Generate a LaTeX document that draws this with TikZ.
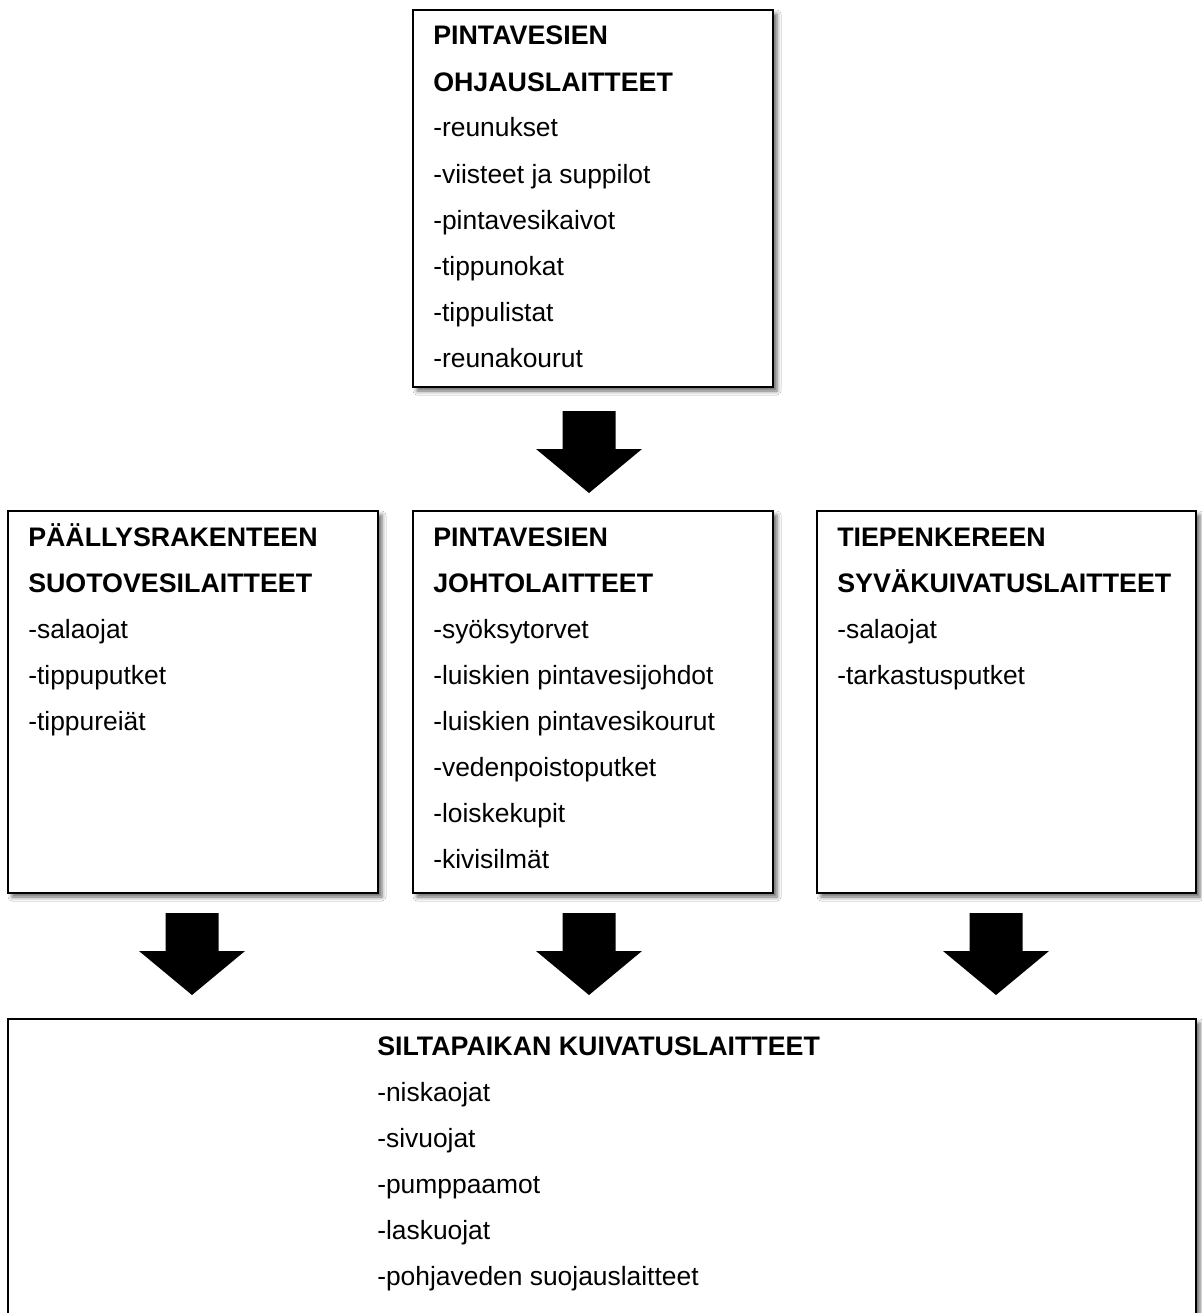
\documentclass[tikz,border=0pt]{standalone}
\usepackage{fontspec}
\setmainfont{Liberation Sans}
\usetikzlibrary{shadows.blur}
\begin{document}
\begin{tikzpicture}[x=0.75pt,y=-0.75pt,
  box/.style={draw=black,line width=1.1pt,fill=white,
    blur shadow={shadow xshift=3pt,shadow yshift=-3pt,shadow blur radius=3pt,shadow opacity=60}},
  txt/.style={inner sep=0pt,anchor=base west,font=\fontsize{19.8}{24}\selectfont},
  hd/.style={txt,font=\fontsize{20.1}{24}\selectfont\bfseries},
  downarrow/.pic={\fill[black] (-26.5,0) -- (26.5,0) -- (26.5,38) -- (53,38) -- (0,82) -- (-53,38) -- (-26.5,38) -- cycle;}
]
\useasboundingbox (0,0) rectangle (1202,1313);
\fill[white] (0,0) rectangle (1202,1313);

% boxes
\draw[box] (413,10) rectangle (773,387) node[pos=0.5,inner sep=0] (topbox) {};
\draw[box] (8,511) rectangle (378,893) node[pos=0.5,inner sep=0] (leftbox) {};
\draw[box] (413,511) rectangle (773,893) node[pos=0.5,inner sep=0] (midbox) {};
\draw[box] (817,511) rectangle (1196,893) node[pos=0.5,inner sep=0] (rightbox) {};
\draw[box] (8,1019) rectangle (1196,1340) node[pos=0.5,inner sep=0] (botbox) {};

% arrows
\coordinate (a0) at (589,411);
\coordinate (a1) at (192,913);
\coordinate (a2) at (589,913);
\coordinate (a3) at (996,913);
\pic at (a0) {downarrow};
\pic at (a1) {downarrow};
\pic at (a2) {downarrow};
\pic at (a3) {downarrow};

% top box text
\node[hd] (t0) at (433,45) {PINTAVESIEN};
\node[hd] (t1) at (433,91) {OHJAUSLAITTEET};
\node[txt] (t2) at (433,137) {-reunukset};
\node[txt] (t3) at (433,183) {-viisteet ja suppilot};
\node[txt] (t4) at (433,229) {-pintavesikaivot};
\node[txt] (t5) at (433,275) {-tippunokat};
\node[txt] (t6) at (433,321) {-tippulistat};
\node[txt] (t7) at (433,367) {-reunakourut};

% left box text
\node[hd] (l0) at (28,546) {PÄÄLLYSRAKENTEEN};
\node[hd] (l1) at (28,592) {SUOTOVESILAITTEET};
\node[txt] (l2) at (28,638) {-salaojat};
\node[txt] (l3) at (28,684) {-tippuputket};
\node[txt] (l4) at (28,730) {-tippureiät};

% middle box text
\node[hd] (m0) at (433,546) {PINTAVESIEN};
\node[hd] (m1) at (433,592) {JOHTOLAITTEET};
\node[txt] (m2) at (433,638) {-syöksytorvet};
\node[txt] (m3) at (433,684) {-luiskien pintavesijohdot};
\node[txt] (m4) at (433,730) {-luiskien pintavesikourut};
\node[txt] (m5) at (433,776) {-vedenpoistoputket};
\node[txt] (m6) at (433,822) {-loiskekupit};
\node[txt] (m7) at (433,868) {-kivisilmät};

% right box text
\node[hd] (r0) at (837,546) {TIEPENKEREEN};
\node[hd] (r1) at (837,592) {SYVÄKUIVATUSLAITTEET};
\node[txt] (r2) at (837,638) {-salaojat};
\node[txt] (r3) at (837,684) {-tarkastusputket};

% bottom box text
\node[hd] (b0) at (377,1055) {SILTAPAIKAN KUIVATUSLAITTEET};
\node[txt] (b1) at (377,1101) {-niskaojat};
\node[txt] (b2) at (377,1147) {-sivuojat};
\node[txt] (b3) at (377,1193) {-pumppaamot};
\node[txt] (b4) at (377,1239) {-laskuojat};
\node[txt] (b5) at (377,1285) {-pohjaveden suojauslaitteet};
\end{tikzpicture}
\end{document}
